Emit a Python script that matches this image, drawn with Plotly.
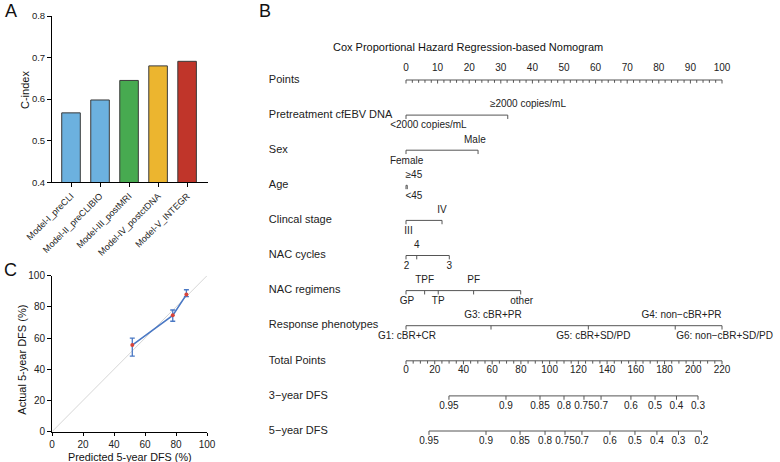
import plotly.graph_objects as go

W, H = 780, 462
FONT = "Liberation Sans, Arial, Helvetica, sans-serif"
TXT = "#222222"
LINE = "#555555"

# ---------------- Panel A data ----------------
models = ["Model-I_preCLI", "Model-II_preCLIBIO", "Model-III_postMRI",
          "Model-IV_postctDNA", "Model-V_INTEGR"]
cindex = [0.567, 0.598, 0.645, 0.680, 0.691]
bar_colors = ["#6cb1df", "#6cb1df", "#47aa50", "#ecb52f", "#c0352a"]

# ---------------- Panel C data ----------------
pred_dfs = [51.8, 77.9, 86.7]
act_dfs = [55.5, 74.6, 87.9]
err_hi = [60.0, 78.0, 91.0]
err_lo = [48.4, 70.8, 86.6]
diag = [0, 100]

# ---------------- Panel B data (nomogram) ----------------
row_names = ["Points", "Pretreatment cfEBV DNA", "Sex", "Age", "Clincal stage",
             "NAC cycles", "NAC regimens", "Response phenotypes", "Total Points",
             "3\u2212year DFS", "5\u2212year DFS"]
points_ticks = list(range(0, 101, 10))
points_minor = list(range(0, 101, 2))
total_ticks = list(range(0, 221, 20))
total_minor = list(range(0, 221, 5))

ebv_levels = ["<2000 copies/mL", "\u22652000 copies/mL"]
ebv_pts = [0, 32.2]
ebv_lab_x = [7.1, 38.6]
ebv_side = ["below", "above"]

sex_levels = ["Female", "Male"]
sex_pts = [0, 22.8]
sex_lab_x = [0.2, 21.8]
sex_side = ["below", "above"]

age_levels = ["<45", "\u226545"]
age_pts = [0, 0.4]
age_lab_x = [2.5, 2.5]
age_side = ["below", "above"]

stage_levels = ["III", "IV"]
stage_pts = [0, 11.4]
stage_lab_x = [0.8, 11.4]
stage_side = ["below", "above"]

cyc_levels = ["2", "4", "3"]
cyc_pts = [0, 3.4, 13.7]
cyc_lab_x = [0.2, 3.4, 13.7]
cyc_side = ["below", "above", "below"]

reg_levels = ["GP", "TPF", "TP", "PF", "other"]
reg_pts = [0, 5.9, 10.2, 21.4, 36.3]
reg_lab_x = [0.3, 5.9, 10.2, 21.4, 36.6]
reg_side = ["below", "above", "below", "above", "below"]

resp_levels = ["G1: cBR+CR", "G3: cBR+PR", "G5: cBR+SD/PD",
               "G4: non\u2212cBR+PR", "G6: non\u2212cBR+SD/PD"]
resp_pts = [0, 26.9, 57.7, 85.2, 100]
resp_lab_x = [0.3, 27.5, 59.3, 87.2, 100.8]
resp_side = ["below", "above", "below", "above", "below"]

dfs3_labels = ["0.95", "0.9", "0.85", "0.8", "0.75", "0.7", "0.6", "0.5", "0.4", "0.3"]
dfs3_total = [29.9, 69.6, 93.3, 110.0, 123.9, 135.8, 156.6, 173.4, 188.3, 203.3]
dfs5_labels = ["0.95", "0.9", "0.85", "0.8", "0.75", "0.7", "0.6", "0.5", "0.4", "0.3", "0.2"]
dfs5_total = [16.0, 55.7, 79.4, 96.8, 110.7, 122.5, 142.0, 159.4, 174.7, 189.7, 205.7]

fig = go.Figure()

# ---------------- Panel A ----------------
fig.add_trace(go.Bar(
    x=models, y=cindex, marker=dict(color=bar_colors, line=dict(color="#3a3a3a", width=1)),
    width=0.64, xaxis="x", yaxis="y", showlegend=False, hoverinfo="skip"))

# ---------------- Panel C ----------------
fig.add_trace(go.Scatter(x=diag, y=diag, mode="lines", line=dict(color="#d6d6d6", width=1),
                         xaxis="x2", yaxis="y2", showlegend=False, hoverinfo="skip"))
fig.add_trace(go.Scatter(
    x=pred_dfs, y=act_dfs, mode="lines+markers",
    line=dict(color="#4a78c4", width=1.6),
    marker=dict(color="#d8453a", size=4),
    error_y=dict(type="data", symmetric=False,
                 array=[h - a for h, a in zip(err_hi, act_dfs)],
                 arrayminus=[a - l for l, a in zip(err_lo, act_dfs)],
                 color="#4a78c4", thickness=1.3, width=2.5),
    xaxis="x2", yaxis="y2", showlegend=False, hoverinfo="skip"))

# ---------------- Panel B (nomogram) ----------------
TL = 0.11      # tick length (rows)
ABOVE = -0.29
BELOW = 0.31


def add_path(xs_ticks, row, lo, hi, axis="x3", tl=TL, major=None, major_tl=None):
    xs, ys = [lo, hi, None], [row, row, None]
    for t in xs_ticks:
        L = tl
        if major is not None and t in major:
            L = major_tl
        xs += [t, t, None]
        ys += [row, row + L, None]
    fig.add_trace(go.Scatter(x=xs, y=ys, mode="lines", line=dict(color=LINE, width=1),
                             xaxis=axis, yaxis="y3", showlegend=False, hoverinfo="skip",
                             cliponaxis=False))


def add_text(xs, row_ys, texts, size=10, axis="x3", pos="middle center"):
    fig.add_trace(go.Scatter(x=xs, y=row_ys, text=texts, mode="text", textposition=pos,
                             textfont=dict(family=FONT, size=size, color=TXT),
                             xaxis=axis, yaxis="y3", showlegend=False, hoverinfo="skip",
                             cliponaxis=False))


# row labels
add_text([-43.4] * len(row_names), list(range(len(row_names))), row_names, size=11,
         pos="middle right")

# Points axis (row 0)
add_path(points_minor, 0, 0, 100, tl=0.08, major=points_ticks, major_tl=0.1)
add_text(points_ticks, [0 + ABOVE - 0.03] * len(points_ticks), [str(v) for v in points_ticks])

factors = [
    (1, ebv_pts, ebv_lab_x, ebv_levels, ebv_side),
    (2, sex_pts, sex_lab_x, sex_levels, sex_side),
    (3, age_pts, age_lab_x, age_levels, age_side),
    (4, stage_pts, stage_lab_x, stage_levels, stage_side),
    (5, cyc_pts, cyc_lab_x, cyc_levels, cyc_side),
    (6, reg_pts, reg_lab_x, reg_levels, reg_side),
    (7, resp_pts, resp_lab_x, resp_levels, resp_side),
]
for row, pts, labx, levs, side in factors:
    add_path(pts, row, min(pts), max(pts))
    ys = [row + (ABOVE if s == "above" else BELOW) for s in side]
    add_text(labx, ys, levs)

# Total points axis (row 8) on overlaying axis x4
add_path(total_minor, 8, 0, 220, axis="x4", tl=0.08, major=total_ticks, major_tl=0.1)
add_text(total_ticks, [8 + 0.29] * len(total_ticks), [str(v) for v in total_ticks], axis="x4")

# DFS axes
add_path(dfs3_total, 9, min(dfs3_total), max(dfs3_total), axis="x4")
add_text(dfs3_total, [9 + 0.31] * len(dfs3_total), dfs3_labels, axis="x4")
add_path(dfs5_total, 10, min(dfs5_total), max(dfs5_total), axis="x4")
add_text(dfs5_total, [10 + 0.31] * len(dfs5_total), dfs5_labels, axis="x4")

# ---------------- Layout ----------------
# Nomogram geometry: points 0 -> 406px, 100 -> 722px ; rows: 80px + 35.1px*i
PX0, PX100 = 406.0, 722.0
ppp = (PX100 - PX0) / 100.0
nx_lo, nx_hi = (260 - PX0) / ppp, (W - PX0) / ppp
ROW0, ROWH = 80.0, 35.1
ny_top, ny_bot = (0 - ROW0) / ROWH, (H - ROW0) / ROWH

axis_common = dict(showline=True, linecolor="black", linewidth=1, ticks="outside",
                   ticklen=4, tickcolor="black", tickwidth=1, showgrid=False, zeroline=False,
                   automargin=False, tickfont=dict(family=FONT, size=10, color=TXT))
hidden = dict(visible=False, automargin=False, showgrid=False, zeroline=False)

fig.update_layout(
    template="none",
    width=W, height=H, margin=dict(l=0, r=0, t=0, b=0, pad=0), autosize=False,
    paper_bgcolor="white", plot_bgcolor="rgba(0,0,0,0)", showlegend=False,
    font=dict(family=FONT, color=TXT),
    xaxis=dict(domain=[52 / W, 208 / W], range=[-0.655, 4.72], tickangle=-45,
               **{**axis_common, "tickfont": dict(family=FONT, size=9, color=TXT)}),
    yaxis=dict(domain=[1 - 182.3 / H, 1 - 16 / H], range=[0.4, 0.8], anchor="x",
               tickvals=[0.4, 0.5, 0.6, 0.7, 0.8], tickformat=".1f",
               **{**axis_common, "tickfont": dict(family=FONT, size=9.5, color=TXT)}),
    xaxis2=dict(domain=[52 / W, 207 / W], range=[0, 100], anchor="y2",
                tickvals=[0, 20, 40, 60, 80, 100], ticklen=3.5,
                **{k: v for k, v in axis_common.items() if k != "ticklen"}),
    yaxis2=dict(domain=[1 - 431.7 / H, 1 - 275.7 / H], range=[0, 100], anchor="x2",
                tickvals=[0, 20, 40, 60, 80, 100], **axis_common),
    xaxis3=dict(domain=[260 / W, 1], range=[nx_lo, nx_hi], anchor="y3", **hidden),
    xaxis4=dict(domain=[260 / W, 1], range=[nx_lo * 2.2, nx_hi * 2.2],
                overlaying="x3", anchor="y3", **hidden),
    yaxis3=dict(domain=[0, 1], range=[ny_bot, ny_top], anchor="x3", **hidden),
)

ann = [
    dict(text="A", x=3 / W, y=1 - 11 / H, size=18, xa="left"),
    dict(text="B", x=257 / W, y=1 - 11 / H, size=18, xa="left"),
    dict(text="C", x=2 / W, y=1 - 270 / H, size=18, xa="left"),
    dict(text="Cox Proportional Hazard Regression-based Nomogram", x=468 / W, y=1 - 47 / H,
         size=11, xa="center"),
    dict(text="Predicted 5-year DFS (%)", x=130 / W, y=1 - 456.5 / H, size=10.8, xa="center"),
]
for a in ann:
    fig.add_annotation(text=a["text"], x=a["x"], y=a["y"], xref="paper", yref="paper",
                       xanchor=a["xa"], yanchor="middle", showarrow=False,
                       font=dict(family=FONT, size=a["size"], color="#111"))
for t, x, y in [("C-index", 25.0, 90), ("Actual 5-year DFS (%)", 21.7, 360)]:
    fig.add_annotation(text=t, x=x / W, y=1 - y / H, xref="paper", yref="paper",
                       xanchor="center", yanchor="middle", showarrow=False, textangle=-90,
                       font=dict(family=FONT, size=11, color="#111"))

fig.write_html(
    "out.html",
    config={"displayModeBar": False, "staticPlot": True},
    post_script="document.body.style.margin='0';document.body.style.overflow='hidden';",
)
